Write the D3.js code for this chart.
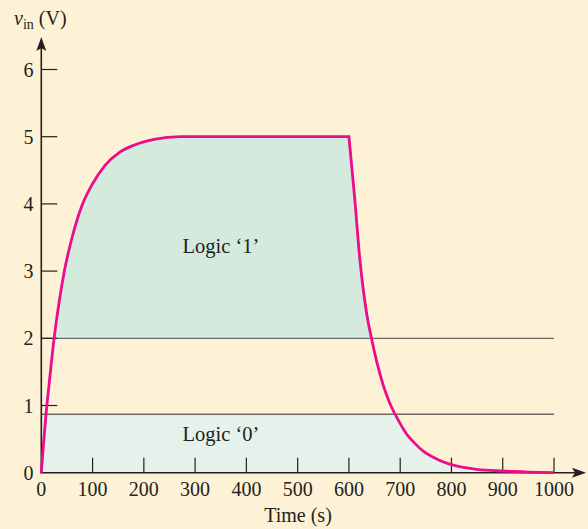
<!DOCTYPE html>
<html><head><meta charset="utf-8">
<script src="https://cdn.jsdelivr.net/npm/d3@7"></script>
<style>html,body{margin:0;padding:0;background:#fdf2d6;}svg{display:block;}</style>
</head><body>
<script>
// ---- data ----
const riseTime = [0, 4, 9, 15, 25, 35, 45, 60, 79, 100, 124, 153, 183, 220, 270, 600];
const riseVolt = [0, 0.4, 0.85, 1.3, 2.0, 2.55, 3.0, 3.5, 3.97, 4.3, 4.57, 4.77, 4.88, 4.96, 5.0, 5.0];
const fallTime = [600, 611, 621, 634, 644, 654, 667, 680, 690, 700, 712, 728, 745, 775, 800, 850, 900, 950, 1000];
const fallVolt = [5.0, 4.11, 3.2, 2.4, 2.0, 1.66, 1.3, 1.03, 0.87, 0.73, 0.58, 0.44, 0.32, 0.19, 0.12, 0.05, 0.025, 0.01, 0.0];
const logic1Threshold = 2.0;
const logic0Threshold = 0.87;
const xTicks = [0, 100, 200, 300, 400, 500, 600, 700, 800, 900, 1000];
const yTicks = [0, 1, 2, 3, 4, 5, 6];
const labels = {x: "Time (s)", logic1: "Logic \u20181\u2019", logic0: "Logic \u20180\u2019"};

const W = 588, H = 529;
const x = d3.scaleLinear().domain([0, 1000]).range([41.3, 554]);
const y = d3.scaleLinear().domain([0, 6]).range([472.7, 69.5]);
const font = "'Liberation Serif', 'Times New Roman', serif";
const ink = "#231f20";

const svg = d3.select("body").append("svg").attr("width", W).attr("height", H);
svg.append("rect").attr("width", W).attr("height", H).attr("fill", "#fdf2d6");

const rise = riseTime.map((t, i) => [t, riseVolt[i]]);
const fall = fallTime.map((t, i) => [t, fallVolt[i]]);
const line = d3.line().x(d => x(d[0])).y(d => y(d[1])).curve(d3.curveMonotoneX);
const riseStr = line(rise);
const fallStr = line(fall).replace(/^M[^A-Za-z]*/, "");
const curveStr = riseStr + fallStr;

const defs = svg.append("defs");
defs.append("clipPath").attr("id", "c1").append("rect")
  .attr("x", 0).attr("y", 0).attr("width", W).attr("height", y(logic1Threshold));
defs.append("clipPath").attr("id", "c0").append("rect")
  .attr("x", 0).attr("y", y(logic0Threshold)).attr("width", W).attr("height", H);

// logic '1' fill
svg.append("path")
  .attr("d", curveStr + `L${x(1000)},${y(logic1Threshold)}L${x(0)},${y(logic1Threshold)}Z`)
  .attr("fill", "#d4eadc").attr("clip-path", "url(#c1)");
// logic '0' fill
svg.append("path")
  .attr("d", curveStr + `L${x(1000)},${y(0)}L${x(0)},${y(0)}Z`)
  .attr("fill", "#e4f2eb").attr("clip-path", "url(#c0)");
svg.append("rect")
  .attr("x", x(0)).attr("y", y(logic0Threshold))
  .attr("width", x(20) - x(0)).attr("height", y(0) - y(logic0Threshold))
  .attr("fill", "#e4f2eb");

// threshold lines
[logic1Threshold, logic0Threshold].forEach(v => {
  svg.append("line").attr("x1", x(0)).attr("x2", x(1000))
    .attr("y1", y(v)).attr("y2", y(v))
    .attr("stroke", "#6e6a66").attr("stroke-width", 1.3);
});

// ticks
svg.selectAll(".xt").data(xTicks.filter(d => d > 0)).enter().append("line")
  .attr("x1", d => x(d)).attr("x2", d => x(d))
  .attr("y1", y(0)).attr("y2", y(0) - 15)
  .attr("stroke", ink).attr("stroke-width", 1.2);
svg.selectAll(".yt").data(yTicks.filter(d => d > 0)).enter().append("line")
  .attr("x1", x(0)).attr("x2", x(0) + 16)
  .attr("y1", d => y(d)).attr("y2", d => y(d))
  .attr("stroke", ink).attr("stroke-width", 1.2);

// axes
svg.append("line").attr("x1", x(0)).attr("x2", x(0)).attr("y1", y(0) + 0.6).attr("y2", 46)
  .attr("stroke", ink).attr("stroke-width", 1.6);
svg.append("line").attr("x1", x(0) - 0.8).attr("x2", 578).attr("y1", y(0)).attr("y2", y(0))
  .attr("stroke", ink).attr("stroke-width", 1.6);
svg.append("path")
  .attr("d", `M${x(0)},37 L${x(0) + 5},51 L${x(0)},48 L${x(0) - 5},51 Z`)
  .attr("fill", ink);
svg.append("path")
  .attr("d", `M586,${y(0)} L572,${y(0) - 5} L575,${y(0)} L572,${y(0) + 5} Z`)
  .attr("fill", ink);

// curve
svg.append("path").attr("d", curveStr).attr("fill", "none")
  .attr("stroke", "#ec0c8c").attr("stroke-width", 2.8).attr("stroke-linejoin", "miter");

// tick labels
svg.selectAll(".xl").data(xTicks).enter().append("text")
  .attr("x", d => x(d)).attr("y", 495.5).attr("text-anchor", "middle")
  .attr("font-family", font).attr("font-size", 20).attr("fill", ink).text(d => d);
svg.selectAll(".yl").data(yTicks).enter().append("text")
  .attr("x", 33.5).attr("y", d => y(d) + 7).attr("text-anchor", "end")
  .attr("font-family", font).attr("font-size", 20).attr("fill", ink).text(d => d);

// axis titles
svg.append("text").attr("x", 298).attr("y", 522).attr("text-anchor", "middle")
  .attr("font-family", font).attr("font-size", 20).attr("fill", ink).text(labels.x);
const yt = svg.append("text").attr("x", 14).attr("y", 25)
  .attr("font-family", font).attr("font-size", 20).attr("fill", ink);
yt.append("tspan").attr("font-style", "italic").text("v");
yt.append("tspan").attr("font-size", 14).attr("dy", 4).text("in");
yt.append("tspan").attr("dy", -4).attr("dx", 5).text("(V)");

// region labels
svg.append("text").attr("x", 221).attr("y", 253).attr("text-anchor", "middle")
  .attr("font-family", font).attr("font-size", 20.5).attr("fill", ink).text(labels.logic1);
svg.append("text").attr("x", 221).attr("y", 441).attr("text-anchor", "middle")
  .attr("font-family", font).attr("font-size", 20.5).attr("fill", ink).text(labels.logic0);
</script>
</body></html>
